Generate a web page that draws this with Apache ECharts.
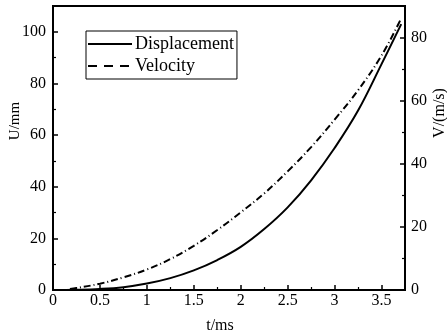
<!DOCTYPE html>
<html><head><meta charset="utf-8">
<script src="https://cdn.jsdelivr.net/npm/echarts@6/dist/echarts.min.js"></script>
<style>html,body{margin:0;padding:0;background:#fff}#c{width:447px;height:335px}</style>
</head><body><div id="c"></div>
<script>
var dispT = [0,0.25,0.5,0.75,1,1.25,1.5,1.75,2,2.25,2.5,2.75,3,3.25,3.5,3.71];
var dispU = [0,0.1,0.4,1.1,2.5,4.6,7.6,11.6,16.7,23.6,32.0,42.5,55.0,69.5,87.5,103.0];
var velT = [0.18,0.25,0.5,0.75,1,1.25,1.5,1.75,2,2.25,2.5,2.75,3,3.25,3.5,3.70];
var velV = [0.3,0.6,2.0,4.0,6.5,9.8,14.0,19.0,24.6,30.6,37.6,45.3,54.0,63.3,74.3,85.5];
var xTickLabels = ['0','0.5','1','1.5','2','2.5','3','3.5'];
var leftTickLabels = ['0','20','40','60','80','100'];
var rightTickLabels = ['0','20','40','60','80'];

var font = 'Liberation Serif';
function zip(a,b){return a.map(function(v,i){return [v,b[i]];});}
var chart = echarts.init(document.getElementById('c'));
var axisBase = {
  axisLine:{show:true,lineStyle:{color:'#000',width:2}},
  axisTick:{show:true,inside:true,length:5,lineStyle:{color:'#000',width:1.5}},
  minorTick:{show:true,splitNumber:2,length:3,lineStyle:{color:'#000',width:1.2}},
  splitLine:{show:false},
  axisLabel:{color:'#000',fontFamily:font,fontSize:16,showMaxLabel:false}
};
function ax(o){return echarts.util.merge(echarts.util.clone(axisBase),o,true);}
chart.setOption({
  animation:false,
  grid:{left:53,right:42,top:6,bottom:45,show:true,borderColor:'#000',borderWidth:2},
  legend:{
    orient:'vertical',left:86,top:31,
    data:[{name:'Displacement'},{name:'Velocity',lineStyle:{type:[9,7]}}],
    backgroundColor:'#fff',borderColor:'#000',borderWidth:1,
    padding:[4,3,4,1],itemGap:4,itemWidth:44,itemHeight:14,
    itemStyle:{opacity:0},
    textStyle:{color:'#000',fontFamily:font,fontSize:18,padding:[0,0,0,-2]}
  },
  xAxis:ax({type:'value',min:0,max:3.75,interval:0.5,
    axisLabel:{margin:3,formatter:function(v){var s=String(v);return xTickLabels.indexOf(s)>=0?s:'';}}}),
  yAxis:[
    ax({type:'value',min:0,max:110,interval:20,position:'left',
      axisLabel:{margin:7,formatter:function(v){var s=String(v);return leftTickLabels.indexOf(s)>=0?s:'';}}}),
    ax({type:'value',min:0,max:90,interval:20,position:'right',
      axisLabel:{margin:6,formatter:function(v){var s=String(v);return rightTickLabels.indexOf(s)>=0?s:'';}}})
  ],
  graphic:[
    {type:'text',x:220,y:326,style:{text:'t/ms',fontFamily:font,fontSize:16,fill:'#000',align:'center',verticalAlign:'middle'}},
    {type:'text',x:15,y:121,rotation:Math.PI/2,style:{text:'U/mm',fontFamily:font,fontSize:15,fill:'#000',align:'center',verticalAlign:'middle'}},
    {type:'text',x:440,y:113,rotation:Math.PI/2,style:{text:'V/(m/s)',fontFamily:font,fontSize:16,fill:'#000',align:'center',verticalAlign:'middle'}}
  ],
  series:[
    {name:'Displacement',type:'line',yAxisIndex:0,data:zip(dispT,dispU),smooth:0.4,symbol:'none',
      itemStyle:{color:'#000'},lineStyle:{color:'#000',width:2}},
    {name:'Velocity',type:'line',yAxisIndex:1,data:zip(velT,velV),smooth:0.4,symbol:'none',
      itemStyle:{color:'#000'},lineStyle:{color:'#000',width:2,type:[7,3,1,3]}}
  ]
});
</script></body></html>
